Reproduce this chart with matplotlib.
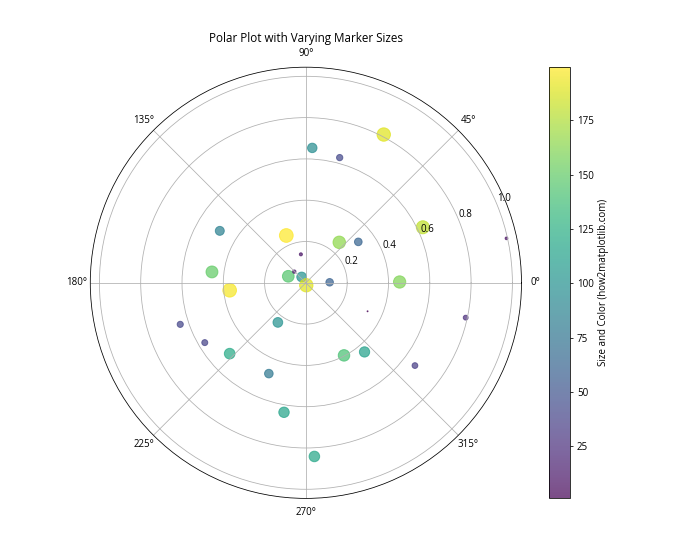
import numpy as np
import matplotlib
matplotlib.use("Agg")
import matplotlib.pyplot as plt

plt.rcParams['font.family'] = ['Open Sans', 'DejaVu Sans']

# Point data (angle in degrees, radius, size/colour value)
theta_deg = [87.3, 74.9, 62.3, 25.4, 12.5, 347.7, 335.2, 0.5, 38.0, 50.5,
             112.5, 100.0, 148.9, 173.4, 185.6, 159.7, 136.0, 126.0, 279.0, 1.2,
             234.7, 198.3, 210.6, 222.9, 247.8, 260.4, 272.8, 297.7, 310.3, 322.8]
radius = [0.654, 0.628, 0.811, 0.627, 0.995, 0.792, 0.329, 0.454, 0.322, 0.254,
          0.248, 0.140, 0.487, 0.458, 0.371, 0.091, 0.078, 0.035, 0.012, 0.115,
          0.235, 0.641, 0.569, 0.504, 0.475, 0.636, 0.842, 0.397, 0.439, 0.663]
values = [95, 42, 190, 180, 8, 25, 1, 160, 62, 165,
          199.4, 10, 85, 150, 197, 145, 12, 100, 190, 60,
          100, 40, 38, 120, 78, 115, 118, 140, 112, 35]

theta = np.deg2rad(theta_deg)

fig, ax = plt.subplots(figsize=(10, 8), dpi=70, subplot_kw=dict(projection='polar'))
scatter = ax.scatter(theta, radius, s=values, c=values, cmap='viridis', alpha=0.7)
ax.set_title('Polar Plot with Varying Marker Sizes')
cbar = plt.colorbar(scatter)
cbar.set_label('Size and Color (how2matplotlib.com)')

plt.savefig('out.png')
